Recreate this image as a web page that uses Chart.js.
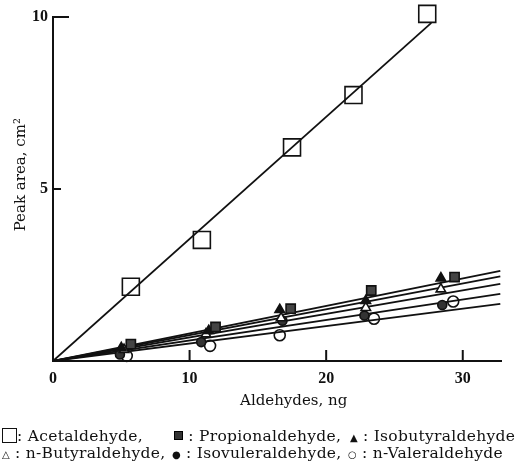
<!DOCTYPE html>
<html>
<head>
<meta charset="utf-8">
<script src="https://cdn.jsdelivr.net/npm/chart.js@4.4.1/dist/chart.umd.min.js"></script>
<style>
  body { margin: 0; background: #fff; color: #111; font-family: "DejaVu Serif", serif; }
  #wrap { position: relative; width: 518px; height: 461px; overflow: hidden; }
  canvas { position: absolute; left: 0; top: 0; }
  .leg { position: absolute; font-size: 15.5px; letter-spacing: 0.3px; white-space: nowrap; line-height: 17px; }
  .sym { display: inline-block; vertical-align: middle; box-sizing: border-box; }
  .big { width: 15px; height: 15px; border: 1.6px solid #111; margin-top: -3px; }
  .dot { width: 9px; height: 9px; background: #333; border: 1px solid #000; margin-top: -3px; }
  .uni { font-family: "DejaVu Sans", sans-serif; font-size: 10px; letter-spacing: 0; }
</style>
</head>
<body>
<div id="wrap">
  <canvas id="chart" width="518" height="461"></canvas>
  <div class="leg" style="left:2px; top:428px;"><span class="sym big"></span>: Acetaldehyde,</div>
  <div class="leg" style="left:174px; top:428px;"><span class="sym dot"></span> : Propionaldehyde,</div>
  <div class="leg" style="left:350px; top:428px;"><span class="uni">▲</span> : Isobutyraldehyde</div>
  <div class="leg" style="left:2px; top:445px;"><span class="uni">△</span> : n-Butyraldehyde,</div>
  <div class="leg" style="left:172px; top:445px;"><span class="uni">●</span> : Isovuleraldehyde,</div>
  <div class="leg" style="left:348px; top:445px;"><span class="uni">○</span> : n-Valeraldehyde</div>
</div>
<script>
const ink = "#111";

const xTicks = [0, 10, 20, 30];
const yTicks = [0, 5, 10];
const xMax = 32.8;

// measured points (ng, cm2)
const acetX = [5.7, 10.9, 17.5, 22.0, 27.4];
const acetY = [2.16, 3.52, 6.21, 7.73, 10.09];
const propX = [5.7, 11.9, 17.4, 23.3, 29.4];
const propY = [0.49, 0.99, 1.52, 2.05, 2.44];
const isobX = [5.0, 11.4, 16.6, 22.9, 28.4];
const isobY = [0.38, 0.88, 1.49, 1.75, 2.41];
const nbutX = [5.2, 11.2, 16.7, 22.9, 28.4];
const nbutY = [0.33, 0.78, 1.25, 1.55, 2.09];
const isovX = [4.9, 10.85, 16.8, 22.8, 28.5];
const isovY = [0.19, 0.55, 1.17, 1.32, 1.63];
const nvalX = [5.4, 11.5, 16.6, 23.5, 29.3];
const nvalY = [0.15, 0.44, 0.75, 1.23, 1.73];

// fitted lines, drawn from origin to the end points
const fitEndX = [27.7, 32.75, 32.75, 32.75, 32.75, 32.75];
const fitEndY = [9.83, 2.62, 2.46, 2.24, 1.95, 1.66];

function pts(xs, ys) {
  return xs.map((x, i) => ({ x: x, y: ys[i] }));
}

function marker(xs, ys, style, radius, fill) {
  return {
    data: pts(xs, ys),
    showLine: false,
    pointStyle: style,
    pointRadius: radius,
    pointBorderWidth: 1.6,
    pointBorderColor: ink,
    pointBackgroundColor: fill,
    clip: false,
    order: 0,
  };
}

const fits = fitEndX.map((x, i) => ({
  data: [{ x: 0, y: 0 }, { x: x, y: fitEndY[i] }],
  showLine: true,
  borderColor: ink,
  borderWidth: 1.8,
  pointRadius: 0,
  order: 1,
}));

const inwardTicks = {
  id: "inwardTicks",
  afterDatasetsDraw(chart) {
    const { ctx, scales: { x, y } } = chart;
    ctx.save();
    ctx.strokeStyle = ink;
    ctx.lineWidth = 2;
    xTicks.filter(v => v > 0).forEach(v => {
      const px = x.getPixelForValue(v);
      ctx.beginPath();
      ctx.moveTo(px, y.bottom);
      ctx.lineTo(px, y.bottom - 11);
      ctx.stroke();
    });
    yTicks.filter(v => v > 0).forEach(v => {
      const py = y.getPixelForValue(v);
      ctx.beginPath();
      ctx.moveTo(x.left, py);
      ctx.lineTo(x.left + (v === 10 ? 16 : 8), py);
      ctx.stroke();
    });
    ctx.restore();
  },
};

new Chart(document.getElementById("chart"), {
  type: "scatter",
  data: {
    datasets: [
      ...fits,
      marker(acetX, acetY, "rect", 12, "rgba(0,0,0,0)"),
      marker(propX, propY, "rect", 6.5, "#444"),
      marker(isobX, isobY, "triangle", 5.5, ink),
      marker(nbutX, nbutY, "triangle", 5.5, "#fff"),
      marker(isovX, isovY, "circle", 4.5, "#333"),
      marker(nvalX, nvalY, "circle", 5.5, "rgba(0,0,0,0)"),
    ],
  },
  plugins: [inwardTicks],
  options: {
    responsive: false,
    animation: false,
    layout: { padding: { left: 0, top: 17, right: 17, bottom: 51 } },
    plugins: { legend: { display: false }, tooltip: { enabled: false } },
    scales: {
      x: {
        min: 0,
        max: xMax,
        afterBuildTicks: s => { s.ticks = xTicks.map(v => ({ value: v })); },
        afterFit: s => { s.height = 49; },
        grid: { display: false, drawTicks: false },
        border: { display: true, color: ink, width: 2 },
        ticks: { color: ink, padding: 8, font: { family: "Liberation Serif", size: 16, weight: "bold" } },
        title: {
          display: true,
          text: "\u00a0\u00a0\u00a0\u00a0\u00a0\u00a0\u00a0Aldehydes, ng",
          color: ink,
          padding: 0,
          font: { family: "DejaVu Serif", size: 15 },
        },
      },
      y: {
        min: 0,
        max: 10,
        afterBuildTicks: s => { s.ticks = yTicks.map(v => ({ value: v })); },
        afterFit: s => { s.width = 53; },
        grid: { display: false, drawTicks: false },
        border: { display: true, color: ink, width: 2 },
        ticks: {
          color: ink,
          padding: 5,
          callback: v => (v === 0 ? "" : v),
          font: { family: "Liberation Serif", size: 16, weight: "bold" },
        },
        title: {
          display: true,
          text: "\u00a0\u00a0\u00a0\u00a0\u00a0\u00a0Peak area, cm²",
          color: ink,
          padding: { top: 12, bottom: 0 },
          font: { family: "DejaVu Serif", size: 15 },
        },
      },
    },
  },
});
</script>
</body>
</html>
